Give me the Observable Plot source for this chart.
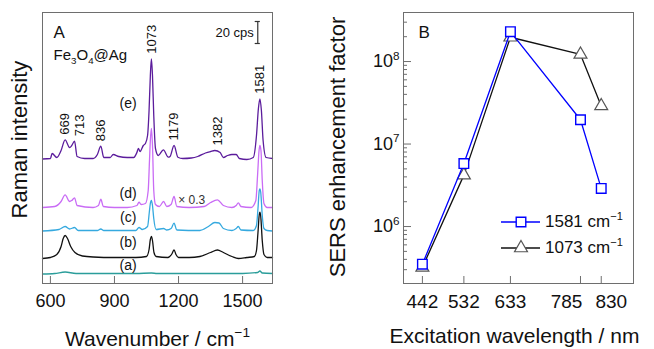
<!DOCTYPE html>
<html><head><meta charset="utf-8">
<script src="https://cdn.jsdelivr.net/npm/d3@7"></script>
<script src="https://cdn.jsdelivr.net/npm/@observablehq/plot@0.6"></script>
<style>
body{margin:0;background:#fff}
#wrap{display:flex;width:654px;height:349px;overflow:hidden}
</style>
</head><body><div id="wrap"></div>
<script>
const FONT = "'Liberation Sans', Arial, Helvetica, sans-serif";

// ---------- Panel A: Raman spectra (wavenumber, stacked intensity in a.u.; 22 a.u. = 20 cps) ----------
const ticksA = [600, 900, 1200, 1500];
const spec_a = [[563,9.5],[620,10],[669,11.5],[720,10],[1000,10],[1073,10.5],[1100,10],[1500,10],[1570,11],[1581,12.5],[1592,10.5],[1640,10]];
const spec_b = [[563,25],[600,26],[630,29],[650,37],[660,45],[669,48],[680,45],[695,37],[715,31],[750,27.5],[800,26.5],[900,26],[1000,26],[1050,27],[1062,34],[1068,44],[1073,47],[1078,43],[1085,31],[1095,27],[1150,26],[1170,30],[1179,33.7],[1188,29],[1200,26],[1250,26],[1300,27],[1350,31],[1382,33.5],[1410,31],[1450,27],[1480,25],[1520,26],[1555,27],[1565,33],[1572,51],[1578,69],[1581,71.3],[1585,67],[1592,43],[1600,29],[1615,26],[1640,26]];
const spec_c = [[563,52.5],[640,54],[669,57],[690,54.5],[713,56],[730,53],[820,53],[836,54.5],[850,53],[1000,53],[1015,56],[1030,54],[1055,57],[1063,71],[1068,80],[1073,83],[1078,78],[1084,65],[1095,54],[1130,55],[1145,53.5],[1165,55],[1179,60.3],[1192,53.5],[1300,53],[1340,57],[1370,61],[1390,60.5],[1410,55],[1450,53],[1470,55],[1480,57],[1492,53.5],[1550,53],[1565,58],[1572,75],[1578,93],[1581,94.7],[1585,91],[1592,68],[1600,55],[1615,53],[1640,52.5]];
const spec_d = [[563,76],[620,77],[650,82],[669,88.7],[690,82],[700,83],[713,85.7],[725,78],[800,76],[825,78],[836,84.3],[848,77],[900,76],[960,76],[1005,78],[1015,81.3],[1025,79],[1045,80],[1058,93],[1064,123],[1068,143],[1073,155],[1078,138],[1084,93],[1092,79],[1110,77],[1130,82],[1145,77],[1165,79],[1179,87],[1192,77],[1250,76],[1320,77],[1350,81],[1382,83.7],[1410,78],[1450,76],[1470,78],[1480,80.7],[1492,77],[1540,76],[1562,83],[1570,108],[1577,133],[1581,138],[1586,133],[1592,103],[1600,80],[1615,76],[1640,76]];
const spec_e = [[563,124.5],[600,125],[608,130],[630,126],[650,133],[669,143.7],[690,136],[700,138],[713,142.3],[725,127],[760,125],[800,125],[820,129],[836,137.3],[850,126],[880,126],[894,129],[920,127],[960,126],[990,126],[1005,131],[1012,135],[1020,132],[1035,138],[1045,140],[1055,148],[1062,173],[1068,208],[1073,224.7],[1078,208],[1084,168],[1092,135],[1105,128],[1129,133.7],[1152,126.3],[1160,127],[1179,138],[1197,126.3],[1220,125],[1260,125.5],[1290,127],[1326,130.5],[1350,132],[1370,133],[1395,131],[1410,126],[1430,128],[1450,129],[1470,129],[1485,125],[1520,124],[1550,126],[1565,148],[1574,175],[1581,184.7],[1588,173],[1596,143],[1610,126],[1640,125]];
const specNames  = ["(a)", "(b)", "(c)", "(d)", "(e)"];
const specColors = ["#2a9d9a", "#111111", "#35a9df", "#c96cf5", "#5b1c9c"];
const specLabelWn = [964, 964, 964, 964, 964];
const specLabelI  = [18, 41.3, 66.3, 90.3, 180];
const peaks = [669, 713, 836, 1073, 1179, 1382, 1581];
const scaleFactorLabel = "× 0.3";
const scaleFactorPos = [1262, 83];
const scaleBarCps = 20, unitsPerCps = 1.1, scaleBarWn = 1571, scaleBarTop = 262;

// ---------- Panel B: SERS enhancement factor ----------
const excitation = [442, 532, 633, 785, 830];
const ef1581 = [3.5e5, 5.8e6, 2.3e8, 1.97e7, 2.9e6];
const ef1073 = [3.2e5, 4.2e6, 1.97e8, 1.22e8, 2.9e7];
const majorY = [1e6, 1e7, 1e8];

const rows1581 = excitation.map((w, i) => ({w, ef: ef1581[i]}));
const rows1073 = excitation.map((w, i) => ({w, ef: ef1073[i]}));
const yDomB = [2.04e5, 3.93e8];
const minorY = [];
for (let e = 5; e <= 8; e++) for (let m = 2; m <= 9; m++) { const v = m * 10 ** e; if (v >= yDomB[0] && v <= yDomB[1]) minorY.push(v); }

const FRAME = "#6e6e6e";
const specs = [spec_a, spec_b, spec_c, spec_e, spec_d];
const specCol = [specColors[0], specColors[1], specColors[2], specColors[4], specColors[3]];

function peakY(wn) {
  let best = 0;
  for (const [w, v] of spec_e) if (Math.abs(w - wn) <= 15) best = Math.max(best, v);
  return best;
}
const peakRows = peaks.map(p => ({p, v: peakY(p)}));

const hA = 349 - 12 - 66;
const plotA = Plot.plot({
  width: 327, height: 349, marginLeft: 42, marginRight: 55, marginTop: 12, marginBottom: 66,
  x: {domain: [563, 1640], axis: null},
  y: {domain: [0, 271], axis: null},
  style: {fontFamily: FONT, background: "white", overflow: "visible"},
  marks: [
    ...specs.map((s, i) => Plot.line(s, {x: d => d[0], y: d => d[1], stroke: specCol[i], strokeWidth: 1.3, curve: "monotone-x"})),
    Plot.frame({stroke: FRAME}),
    Plot.tickX(ticksA, {x: d => d, insetTop: hA - 7, stroke: FRAME}),
    Plot.text(ticksA, {x: d => d, text: d => String(d), frameAnchor: "bottom", dy: 18, fontSize: 18, textAnchor: "middle", lineAnchor: "middle", fill: "#111"}),
    Plot.text(["Wavenumber / cm{^−1}"], {text: d => d, frameAnchor: "bottom", dy: 55.5, fontSize: 21, textAnchor: "middle", lineAnchor: "middle", fill: "#111"}),
    Plot.text(["Raman intensity"], {text: d => d, frameAnchor: "left", dx: -23, dy: -8.5, rotate: -90, fontSize: 22, textAnchor: "middle", lineAnchor: "middle", fill: "#111"}),
    Plot.text(["A"], {text: d => d, frameAnchor: "top-left", dx: 11, dy: 20, fontSize: 17, textAnchor: "start", lineAnchor: "middle", fill: "#111"}),
    Plot.text(["Fe{_3}O{_4}@Ag"], {text: d => d, frameAnchor: "top-left", dx: 11, dy: 43, fontSize: 15, textAnchor: "start", lineAnchor: "middle", fill: "#111"}),
    Plot.text(specNames, {x: (d, i) => specLabelWn[i], y: (d, i) => specLabelI[i], text: d => d, fontSize: 14, fill: "#111", textAnchor: "middle", lineAnchor: "middle"}),
    Plot.text([scaleFactorLabel], {x: scaleFactorPos[0], y: scaleFactorPos[1], text: d => d, fontSize: 12, fill: "#333", textAnchor: "middle", lineAnchor: "middle"}),
    Plot.text(peakRows.filter(d => d.p !== 713), {x: "p", y: "v", text: d => String(d.p), rotate: -90, textAnchor: "start", lineAnchor: "middle", dy: -5, fontSize: 13, fill: "#111"}),
    Plot.text(peakRows.filter(d => d.p === 713), {x: "p", y: "v", text: d => String(d.p), rotate: -90, textAnchor: "start", lineAnchor: "middle", dy: -5, dx: 5, fontSize: 13, fill: "#111"}),
    Plot.ruleX([scaleBarWn], {x: d => d, y1: scaleBarTop - scaleBarCps * unitsPerCps, y2: scaleBarTop, stroke: "#333", strokeWidth: 1.2}),
    Plot.ruleY([scaleBarTop - scaleBarCps * unitsPerCps, scaleBarTop], {y: d => d, x1: scaleBarWn - 12, x2: scaleBarWn + 12, stroke: "#333", strokeWidth: 1.2}),
    Plot.text([`${scaleBarCps} cps`], {x: scaleBarWn, y: scaleBarTop - 11, text: d => d, textAnchor: "end", dx: -4, lineAnchor: "middle", fontSize: 13, fill: "#111"})
  ]
});

const hB = 349 - 12 - 66, wB = 327 - 76 - 21;
function legendB(index, scales, values, dims) {
  const right = dims.width - dims.marginRight, bottom = dims.height - dims.marginBottom;
  const g = d3.create("svg:g");
  const items = [
    {label: "1581 cm{^−1}", line: "#0000ff", stroke: "#0000ff", symbol: d3.symbolSquare, size: Math.PI * 5.4 * 5.4, sw: 1.4, up: 61},
    {label: "1073 cm{^−1}", line: "#111111", stroke: "#555555", symbol: d3.symbolTriangle, size: Math.PI * 4.8 * 4.8, sw: 1.2, up: 35}
  ];
  for (const it of items) {
    const y = bottom - it.up;
    g.append("line").attr("x1", right - 132).attr("x2", right - 93).attr("y1", y).attr("y2", y).attr("stroke", it.line).attr("stroke-width", 1.3);
    g.append("path").attr("d", d3.symbol(it.symbol, it.size)()).attr("transform", `translate(${right - 112},${y})`)
      .attr("fill", "white").attr("stroke", it.stroke).attr("stroke-width", it.sw);
    g.append("text").attr("x", right - 88).attr("y", y).attr("dy", "0.32em").attr("font-size", 17)
      .attr("text-anchor", "start").attr("font-family", FONT).attr("fill", "#111").text(it.label);
  }
  return g.node();
}

// tick labels under the 785 / 830 ticks are spread apart in the original
const exLabelNudge = {785: -14, 830: 10};

const plotB = Plot.plot({
  width: 327, height: 349, marginLeft: 76, marginRight: 21, marginTop: 12, marginBottom: 66,
  x: {domain: [401, 900], axis: null},
  y: {type: "log", domain: yDomB, axis: null},
  style: {fontFamily: FONT, background: "white", overflow: "visible"},
  marks: [
    Plot.frame({stroke: FRAME}),
    Plot.tickY(majorY, {y: d => d, insetRight: wB - 8, stroke: FRAME}),
    Plot.tickY(minorY, {y: d => d, insetRight: wB - 4, stroke: FRAME}),
    Plot.tickX(excitation, {x: d => d, insetTop: hB - 7, stroke: FRAME}),
    ...excitation.map(w => Plot.text([w], {x: d => d, text: d => String(d), frameAnchor: "bottom", dy: 18, dx: exLabelNudge[w] || 0, fontSize: 19, textAnchor: "middle", lineAnchor: "middle", fill: "#111"})),
    Plot.text(majorY, {y: d => d, text: d => `10{^${Math.round(Math.log10(d))}}`, frameAnchor: "left", dx: -4, textAnchor: "end", fontSize: 18, lineAnchor: "middle", fill: "#111"}),
    Plot.text(["Excitation wavelength / nm"], {text: d => d, frameAnchor: "bottom", dx: -4, dy: 53, fontSize: 21, textAnchor: "middle", lineAnchor: "middle", fill: "#111"}),
    Plot.text(["SERS enhancement factor"], {text: d => d, frameAnchor: "left", dx: -66, dy: -1, rotate: -90, fontSize: 22, textAnchor: "middle", lineAnchor: "middle", fill: "#111"}),
    Plot.text(["B"], {text: d => d, frameAnchor: "top-left", dx: 15, dy: 20, fontSize: 17, textAnchor: "start", lineAnchor: "middle", fill: "#111"}),
    Plot.line(rows1073, {x: "w", y: "ef", stroke: "#111", strokeWidth: 1.3}),
    Plot.dot(rows1073, {x: "w", y: "ef", symbol: "triangle", r: 4.8, stroke: "#555", fill: "white", strokeWidth: 1.2}),
    Plot.line(rows1581, {x: "w", y: "ef", stroke: "#0000ff", strokeWidth: 1.3}),
    Plot.dot(rows1581, {x: "w", y: "ef", symbol: "square", r: 5.4, stroke: "#0000ff", fill: "white", strokeWidth: 1.4}),
    legendB
  ]
});

const wrap = document.getElementById("wrap");
wrap.appendChild(plotA);
wrap.appendChild(plotB);

function richText(root) {
  const ns = "http://www.w3.org/2000/svg";
  root.querySelectorAll("text").forEach(t => {
    const s = t.textContent;
    if (!/\{[\^_]/.test(s)) return;
    const fs = parseFloat(getComputedStyle(t).fontSize) || 16;
    t.textContent = "";
    const re = /\{([\^_])([^}]*)\}/g;
    let last = 0, m, pending = 0;
    const add = (txt, opts) => {
      const sp = document.createElementNS(ns, "tspan");
      sp.textContent = txt;
      if (opts) for (const k in opts) sp.setAttribute(k, opts[k]);
      t.appendChild(sp);
    };
    while ((m = re.exec(s))) {
      if (m.index > last) { add(s.slice(last, m.index), pending ? {dy: pending} : null); pending = 0; }
      const shift = m[1] === "^" ? -0.42 * fs : 0.22 * fs;
      add(m[2], {dy: shift + pending, "font-size": 0.65 * fs});
      pending = -shift;
      last = re.lastIndex;
    }
    if (last < s.length) add(s.slice(last), pending ? {dy: pending} : null);
  });
}
richText(wrap);
</script>
</body></html>
